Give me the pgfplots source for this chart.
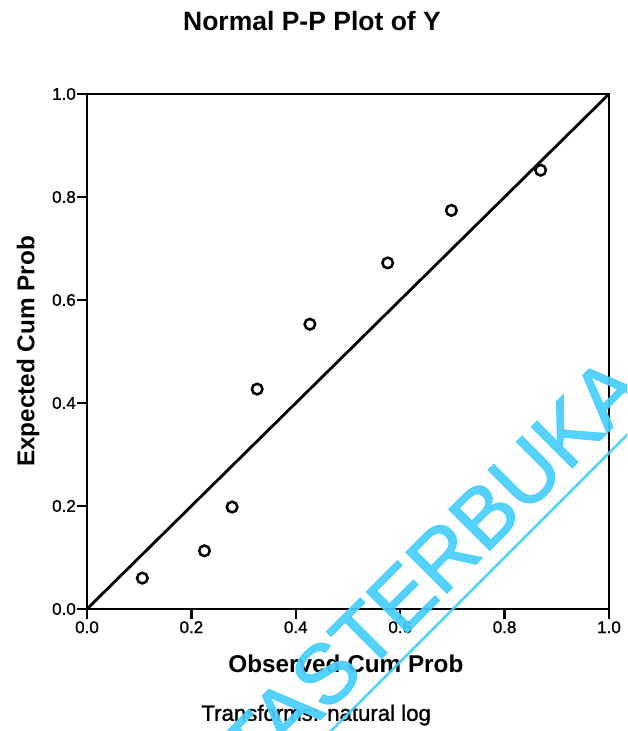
\documentclass[border=0pt]{standalone}
\usepackage{fontspec}
\setmainfont{Liberation Sans}
\newfontfamily\medfont[FakeBold=1.2]{Liberation Sans}
\newfontfamily\wmfont[FakeBold=1.5]{Liberation Sans}
\usepackage{pgfplots}
\pgfplotsset{compat=1.18}
\definecolor{wm}{RGB}{70,206,255}
\begin{document}
\begin{tikzpicture}
\useasboundingbox (0,0) rectangle (627pt,731pt);
\begin{axis}[
  at={(87pt,122pt)}, anchor=south west,
  scale only axis, width=522pt, height=515pt,
  xmin=0, xmax=1, ymin=0, ymax=1,
  axis line style={line width=2.8pt},
  xtick={0,0.2,0.4,0.6,0.8,1.0},
  ytick={0,0.2,0.4,0.6,0.8,1.0},
  tick align=outside, tick pos=left,
  major tick length=10pt,
  tick style={line width=2.4pt, black},
  /pgf/number format/assume math mode=true,
  /pgf/number format/.cd, fixed, fixed zerofill, precision=1, /pgfplots/.cd,
  ticklabel style={font=\medfont\fontsize{17}{17}\selectfont},
  xticklabel style={inner sep=2pt},
  yticklabel style={inner sep=1pt},
  title={Normal P-P Plot of Y},
  title style={font=\bfseries\fontsize{26.5}{26.5}\selectfont, at={(axis description cs:0.431,1.130)}, anchor=center},
  xlabel={Observed Cum Prob},
  xlabel style={font=\bfseries\fontsize{24.3}{24.3}\selectfont, at={(axis description cs:0.496,-0.107)}, anchor=center},
  ylabel={Expected Cum Prob},
  ylabel style={font=\bfseries\fontsize{24.3}{24.3}\selectfont, at={(axis description cs:-0.113,0.5)}, anchor=center},
  clip=false,
]
\addplot[black, line width=2.8pt] coordinates {(0,0) (1,1)};
\addplot[only marks, mark=o, mark size=5.3pt, mark options={line width=2.5pt, black, fill=white}] coordinates {
  (0.106,0.060)
  (0.225,0.113)
  (0.278,0.198)
  (0.326,0.427)
  (0.427,0.553)
  (0.576,0.672)
  (0.698,0.774)
  (0.869,0.852)
};
\node[font=\medfont\fontsize{22.2}{22.2}\selectfont, anchor=center] at (axis description cs:0.439,-0.206) {Transforms: natural log};
\end{axis}
\begin{scope}
\clip (0,0) rectangle (627pt,731pt);
\node[rotate=45, anchor=base west, inner sep=0pt, text=wm, opacity=0.92, font=\wmfont\fontsize{84}{84}\selectfont] at (366pt,57pt) {TERBUKA};
\node[rotate=45, anchor=base east, inner sep=0pt, text=wm, opacity=0.92, font=\wmfont\fontsize{84}{84}\selectfont] at (366pt,57pt) {UNIVERSITAS\ };
\draw[wm, opacity=0.92, line width=2.6pt] (300pt,-31pt) -- (720pt,389pt);
\end{scope}
\end{tikzpicture}
\end{document}
